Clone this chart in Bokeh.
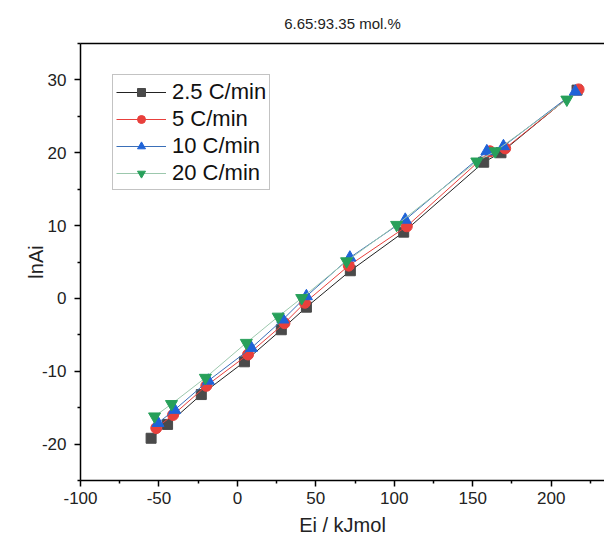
from bokeh.plotting import figure
from bokeh.models import LinearAxis, Range1d, FixedTicker
from bokeh.embed import file_html
from bokeh.resources import INLINE

# Data
e_25 = [-55, -44.5, -23, 4.5, 28, 44, 72, 106, 157, 168, 216.5]
lna_25 = [-19.2, -17.3, -13.2, -8.7, -4.3, -1.2, 3.8, 9.1, 18.7, 20.0, 28.6]
e_5 = [-51.7, -41, -19.8, 6.8, 30, 43, 71, 108, 161, 170.7, 217.5]
lna_5 = [-17.8, -16.0, -12.0, -7.7, -3.4, -0.6, 4.5, 9.9, 20.2, 20.6, 28.7]
e_10 = [-50.6, -40, -18.5, 8.9, 29, 44, 71.7, 107, 159, 169.6, 215.4]
lna_10 = [-17.1, -15.3, -11.3, -6.8, -2.9, 0.3, 5.6, 10.8, 20.2, 20.9, 28.4]
e_20 = [-52.8, -42, -20.4, 5.7, 26, 41, 69.6, 101.5, 152.6, 164.3, 210]
lna_20 = [-16.2, -14.5, -10.9, -6.1, -2.5, 0.05, 5.1, 10.1, 18.8, 20.2, 27.3]

labels = ["2.5 C/min", "5 C/min", "10 C/min", "20 C/min"]
x_ticks = [-100, -50, 0, 50, 100, 150, 200]
y_ticks = [-20, -10, 0, 10, 20, 30]
x_title = "Ei / kJmol"
y_title = "lnAi"

FONT = "Liberation Sans"
X0, X1, Y0, Y1 = -100, 234, -25, 35

p = figure(width=604, height=539, output_backend="svg", toolbar_location=None,
           x_range=Range1d(X0, X1), y_range=Range1d(Y0, Y1),
           min_border_left=80, min_border_right=0, min_border_top=43, min_border_bottom=59,
           title="6.65:93.35 mol.%")
p.outline_line_color = None
p.grid.visible = False
p.background_fill_color = "white"
p.border_fill_color = "white"

p.title.align = "center"
p.title.text_font = FONT
p.title.text_font_size = "15px"
p.title.text_font_style = "normal"
p.title.text_color = "#222222"
p.title.standoff = 24

for ax in [p.xaxis[0], p.yaxis[0]]:
    ax.axis_line_width = 1.5
    ax.axis_line_color = "black"
    ax.major_tick_line_width = 1.5
    ax.minor_tick_line_width = 1.5
    ax.major_tick_out = 6
    ax.major_tick_in = 0
    ax.minor_tick_out = 3
    ax.minor_tick_in = 0
    ax.major_label_text_font = FONT
    ax.major_label_text_font_size = "17px"
    ax.major_label_text_color = "#222222"
    ax.axis_label_text_font = FONT
    ax.axis_label_text_font_size = "20px"
    ax.axis_label_text_font_style = "normal"
    ax.axis_label_text_color = "#222222"

p.xaxis[0].ticker = FixedTicker(ticks=x_ticks, minor_ticks=[-75, -25, 25, 75, 125, 175, 225])
p.yaxis[0].ticker = FixedTicker(ticks=y_ticks, minor_ticks=[-25, -15, -5, 5, 15, 25, 35])
p.xaxis[0].major_label_overrides = {t: str(t) for t in x_ticks}
p.yaxis[0].major_label_overrides = {t: str(t) for t in y_ticks}
p.xaxis[0].axis_label = x_title
p.yaxis[0].axis_label = y_title
p.xaxis[0].major_label_standoff = 5
p.yaxis[0].major_label_standoff = 8
p.xaxis[0].axis_label_standoff = 7
p.yaxis[0].axis_label_standoff = -8

top = LinearAxis(ticker=FixedTicker(ticks=[]), major_tick_out=0, minor_tick_out=0,
                 major_label_standoff=0, major_label_text_font_size="0px",
                 axis_line_width=1.5, axis_line_color="black")
p.add_layout(top, "above")

series = [
    (e_25, lna_25, "square", "#4a4a4a", "#222222", labels[0], 10),
    (e_5, lna_5, "circle", "#e8403c", "#e8403c", labels[1], 11),
    (e_10, lna_10, "triangle", "#1f63d8", "#3a6fb8", labels[2], 12),
    (e_20, lna_20, "inverted_triangle", "#27a05a", "#9cc8ad", labels[3], 12),
]
for xs, ys, marker, fc, lc, lab, sz in series:
    p.line(xs, ys, line_color=lc, line_width=1, legend_label=lab)
    p.scatter(xs, ys, marker=marker, size=sz, fill_color=fc, line_color=fc, legend_label=lab)

lg = p.legend[0]
lg.location = (32, 290)
lg.label_text_font = FONT
lg.label_text_font_size = "22px"
lg.label_text_color = "#111111"
lg.glyph_width = 50
lg.glyph_height = 20
lg.label_height = 27
lg.label_standoff = 6
lg.spacing = 0
lg.padding = 3
lg.margin = 0
lg.border_line_color = "#888888"
lg.border_line_width = 1
lg.background_fill_alpha = 1

open("out.html", "w").write(file_html(p, INLINE))
